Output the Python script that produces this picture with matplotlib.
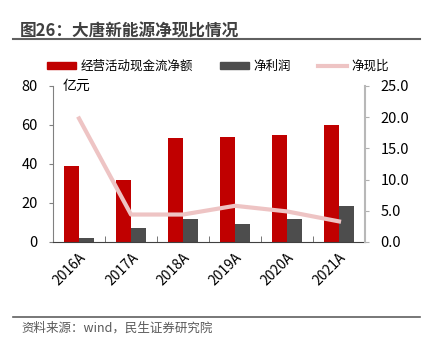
import matplotlib
matplotlib.use("Agg")
import matplotlib.pyplot as plt
from matplotlib.lines import Line2D
import numpy as np

plt.rcParams['font.family'] = ['Noto Sans CJK SC', 'DejaVu Sans']

years = ['2016A', '2017A', '2018A', '2019A', '2020A', '2021A']
cash_flow = [38.8, 31.9, 53.1, 53.8, 55.0, 60.2]
net_profit = [1.8, 7.3, 11.9, 9.2, 11.9, 18.3]
cash_ratio = [19.8, 4.4, 4.4, 5.8, 4.9, 3.3]

RED = '#C00000'
GRAY = '#4D4D4D'
PINK = '#EEC4C4'


def main():
    fig = plt.figure(figsize=(4.32, 3.5), dpi=100)
    ax = fig.add_axes([0.1227, 0.3086, 0.7222, 0.4457])
    ax2 = ax.twinx()

    x = np.arange(len(years))
    w = 0.29
    ax.bar(x - w / 2, cash_flow, w, color=RED, label='经营活动现金流净额')
    ax.bar(x + w / 2, net_profit, w, color=GRAY, label='净利润')
    ax2.plot(x, cash_ratio, color=PINK, lw=3, label='净现比')

    ax.set_xlim(-0.5, len(years) - 0.5)
    ax.set_ylim(0, 80)
    ax.set_yticks([0, 20, 40, 60, 80])
    ax2.set_ylim(0, 25)
    ax2.set_yticks([0, 5, 10, 15, 20, 25])
    ax2.set_yticklabels([f'{v:.1f}' for v in [0, 5, 10, 15, 20, 25]])

    ax.set_xticks(x)
    ax.set_xticklabels(years, rotation=45, ha='right', rotation_mode='anchor')
    ax.set_xticks(np.arange(-0.5, len(years)), minor=True)
    ax.tick_params(axis='x', which='major', length=0, pad=6, labelsize=10)
    ax.tick_params(axis='x', which='minor', direction='in', length=4,
                   color='#606060')
    ax.tick_params(axis='y', length=3, color='#808080', labelsize=10.5,
                   pad=8)
    ax2.tick_params(axis='y', length=3, color='#B0B0B0', labelsize=10.5,
                    pad=8)

    for a in (ax, ax2):
        a.spines['top'].set_visible(False)
    ax.spines['right'].set_visible(False)
    ax.spines['left'].set_color('#808080')
    ax.spines['bottom'].set_color('#404040')
    ax2.spines['left'].set_visible(False)
    ax2.spines['bottom'].set_visible(False)
    ax2.spines['right'].set_color('#B8B8B8')
    ax2.spines['right'].set_linewidth(1.5)

    ax.text(0.03, 1.0, '亿元', transform=ax.transAxes, fontsize=10,
            va='center', ha='left')

    handles = [
        plt.Rectangle((0, 0), 1, 1, color=RED),
        plt.Rectangle((0, 0), 1, 1, color=GRAY),
        Line2D([0], [0], color=PINK, lw=3),
    ]
    labels = ['经营活动现金流净额', '净利润', '净现比']
    fig.legend(handles, labels, loc='center left',
               bbox_to_anchor=(0.109, 0.81),
               ncol=3, frameon=False, fontsize=9, handlelength=2.3,
               handleheight=0.45, handletextpad=0.35, columnspacing=2.2,
               borderpad=0, borderaxespad=0)

    fig.text(0.046, 0.911, '图26：大唐新能源净现比情况', fontsize=12,
             fontweight='bold', color='#404040', va='center')
    fig.add_artist(Line2D([0.03, 0.972], [0.888, 0.888], color='#606060',
                          lw=1.5, transform=fig.transFigure))
    fig.add_artist(Line2D([0.03, 0.972], [0.093, 0.093], color='#606060',
                          lw=1.2, transform=fig.transFigure))
    fig.text(0.05, 0.062, '资料来源：wind，民生证券研究院', fontsize=9,
             color='#595959', va='center')

    fig.savefig('out.png', dpi=100)


if __name__ == "__main__":
    main()
